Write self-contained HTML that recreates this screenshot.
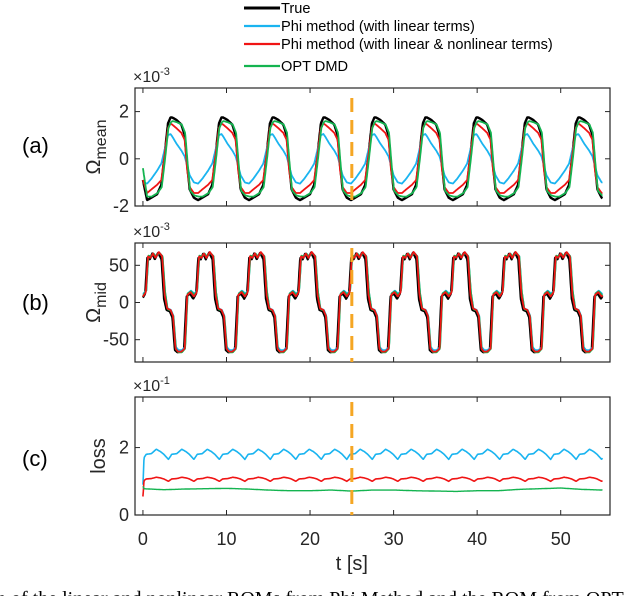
<!DOCTYPE html>
<html><head><meta charset="utf-8">
<style>
html,body{margin:0;padding:0;background:#fff;}
svg{display:block;}
text{font-family:"Liberation Sans",Arial,sans-serif;fill:#262626;}
</style></head>
<body>
<svg id="chart" width="640" height="596" viewBox="0 0 640 596">
</svg>
<script>
// ---------- data ----------
const xTicks = [0, 10, 20, 30, 40, 50];
const tEnd = 55;
const dashT = 25;
const periodA = 6.1;
const periodB = 6.1;
const periodC = 3.05;
// panel (a) one cycle: phase (s) and values (x1e-3)
const aPhase = [0, 0.5, 1.0, 1.7, 2.2, 2.6, 3.0, 3.3, 3.5, 4.0, 4.6, 5.0, 5.3, 5.6, 6.1];
const aTrue  = [-1.65, -1.75, -1.65, -1.5, -1.1, 0.2, 1.5, 1.75, 1.75, 1.65, 1.45, 1.0, -0.3, -1.3, -1.65];
const aLin   = [-1.0, -1.05, -0.85, -0.5, -0.2, 0.4, 1.0, 1.05, 0.95, 0.65, 0.35, 0.1, -0.3, -0.7, -1.0];
const aNonlin= [-1.45, -1.45, -1.3, -1.1, -0.9, 0.2, 1.3, 1.5, 1.45, 1.3, 1.1, 0.8, -0.5, -1.2, -1.45];
const aOpt   = [-1.55, -1.6, -1.6, -1.45, -1.2, 0.0, 1.3, 1.55, 1.6, 1.55, 1.45, 1.1, -0.2, -1.35, -1.55];
const aStartTrue = [-0.9, -1.75];
const aStartLin = [-1.0, -1.05];
const aStartNonlin = [-0.9, -1.45];
const aStartOpt = [-0.4, -1.6];
// panel (b) one cycle (x1e-3)
const bPhase = [0, 0.35, 0.6, 0.9, 1.2, 1.5, 1.9, 2.3, 2.6, 2.9, 3.3, 3.6, 3.9, 4.2, 4.6, 5.0, 5.3, 5.7, 6.1];
const bTrue  = [5, 12, 60, 58, 66, 58, 67, 58, 5, -10, -12, -20, -64, -67, -66, -62, 8, 12, 5];
const bLin   = [12, 16, 62, 62, 66, 62, 67, 62, 14, -8, -10, -18, -60, -64, -64, -60, 12, 16, 12];
const bNonlin= [8, 14, 62, 60, 66, 60, 68, 62, 10, -8, -10, -18, -62, -66, -66, -62, 10, 14, 8];
const bOpt   = [10, 16, 63, 62, 66, 62, 67, 62, 14, -9, -11, -19, -63, -67, -67, -62, 12, 15, 10];
// panel (c) loss (x1e-1)
const cPhase = [0, 0.4, 1.0, 1.6, 2.1, 2.5, 3.05];
const cLin   = [1.65, 1.8, 1.82, 1.95, 1.88, 1.8, 1.65];
const cNonlin= [1.0, 1.07, 1.08, 1.12, 1.1, 1.07, 1.0];
const cOptT  = [0, 2.5, 5, 7.5, 10, 12.5, 15, 17.5, 20, 22.5, 25, 27.5, 30, 32.5, 35, 37.5, 40, 42.5, 45, 47.5, 50, 52.5, 55];
const cOpt   = [0.78, 0.75, 0.77, 0.78, 0.79, 0.77, 0.74, 0.72, 0.72, 0.74, 0.71, 0.74, 0.74, 0.72, 0.71, 0.7, 0.72, 0.72, 0.76, 0.78, 0.8, 0.76, 0.74];
const cStartLin = [0.9, 1.8];
const cStartNonlin = [0.55, 1.08];
const cStartOpt = [0.85, 0.78];

// ---------- layout ----------
const NS = "http://www.w3.org/2000/svg";
const svg = document.getElementById("chart");
const X0 = 135, X1 = 610;
const xMin = -0.95, xMax = 55.9;
const sx = t => X0 + (t - xMin) / (xMax - xMin) * (X1 - X0);
const panels = [
  {key:"a", top:88, bot:206, ymin:-2, ymax:3, ticks:[-2,0,2], exp:"-3", lab:"(a)", labY:145, yl:"mean"},
  {key:"b", top:243, bot:362, ymin:-80, ymax:80, ticks:[-50,0,50], exp:"-3", lab:"(b)", labY:302, yl:"mid"},
  {key:"c", top:397, bot:515, ymin:0, ymax:3.5, ticks:[0,2], exp:"-1", lab:"(c)", labY:458, yl:"loss"}
];
function mk(tag, attrs, parent){
  const e = document.createElementNS(NS, tag);
  for (const k in attrs) e.setAttribute(k, attrs[k]);
  (parent||svg).appendChild(e);
  return e;
}
function interp(ph, vals, p){
  for (let i=0;i<ph.length-1;i++){
    if (p>=ph[i] && p<=ph[i+1]){ const f=(p-ph[i])/(ph[i+1]-ph[i]); return vals[i]+f*(vals[i+1]-vals[i]); }
  }
  return vals[vals.length-1];
}
function cyc(ph, vals, period, t){ let p = ((t % period)+period)%period; return interp(ph, vals, p); }

panels.forEach(P=>{
  const sy = v => P.bot - (v - P.ymin)/(P.ymax - P.ymin)*(P.bot - P.top);
  P.sy = sy;
  const g = mk("g", {});
  
  
  const clipId = "clip"+P.key;
  const cp = mk("clipPath", {id:clipId}, g);
  mk("rect", {x:X0, y:P.top, width:X1-X0, height:P.bot-P.top}, cp);
  const box = mk("rect", {x:X0, y:P.top, width:X1-X0, height:P.bot-P.top, fill:"none", stroke:"#262626", "stroke-width":1.2}, g);
  
  
  xTicks.forEach(t=>{
    const x = sx(t);
    mk("line",{x1:x,x2:x,y1:P.bot,y2:P.bot-5,stroke:"#262626","stroke-width":1},g);
    mk("line",{x1:x,x2:x,y1:P.top,y2:P.top+5,stroke:"#262626","stroke-width":1},g);
    if (P.key==="c"){
      const tl = mk("text",{x:x,y:545,"text-anchor":"middle","font-size":18},g);
      tl.textContent = t;
      
      
    }
  });
  P.ticks.forEach(v=>{
    const y = sy(v);
    mk("line",{x1:X0,x2:X0+5,y1:y,y2:y,stroke:"#262626","stroke-width":1},g);
    mk("line",{x1:X1,x2:X1-5,y1:y,y2:y,stroke:"#262626","stroke-width":1},g);
    const tl = mk("text",{x:X0-6,y:y+6,"text-anchor":"end","font-size":18},g);
    tl.textContent = v;
    
    
  });
  const ex = mk("text",{x:X0-2,y:P.top-6,"font-size":16},g);
  ex.innerHTML = '×10<tspan dy="-7" font-size="11">'+P.exp+'</tspan>';
  
  
  const pl = mk("text",{x:22,y:P.labY+8,"font-size":22,style:"fill:#000"},g);
  pl.textContent = P.lab;
  
  
  const cy = (P.top+P.bot)/2;
  const yl = mk("text",{transform:"translate("+(P.key==="c"?105:100)+","+cy+") rotate(-90)","text-anchor":"middle","font-size":20},g);
  if (P.key==="c") yl.textContent = "loss";
  else yl.innerHTML = 'Ω<tspan dy="6" font-size="16">'+P.yl+'</tspan>';
  
  
  P.g = g; P.clip = clipId;
});

function series(P, color, fn, name, w){
  let d = "";
  for (let t=0; t<=tEnd+1e-9; t+=0.04){
    const v = fn(t);
    d += (d?"L":"M") + sx(t).toFixed(1) + "," + P.sy(v).toFixed(1);
  }
  const p = mk("path",{d:d,fill:"none",stroke:color,"stroke-width":w||1.8,"stroke-linejoin":"round","clip-path":"url(#"+P.clip+")"},P.g);
  
  
}
const C_TRUE="#000000", C_LIN="#1ab4f0", C_NON="#f01414", C_OPT="#14b450";
const A = panels[0], B = panels[1], Cp = panels[2];
function withStart(st, f, dur){ dur = dur||0.15; return t => t<dur ? st[0]+(st[1]-st[0])*t/dur : f(t); }
series(A, C_TRUE, withStart(aStartTrue, t=>cyc(aPhase,aTrue,periodA,t), 0.5), "series-true-a", 2.4);
series(A, C_LIN, withStart(aStartLin, t=>cyc(aPhase,aLin,periodA,t), 0.5), "series-phi-linear-a");
series(A, C_NON, withStart(aStartNonlin, t=>cyc(aPhase,aNonlin,periodA,t), 0.5), "series-phi-nonlinear-a");
series(A, C_OPT, withStart(aStartOpt, t=>cyc(aPhase,aOpt,periodA,t-0.05), 0.5), "series-opt-dmd-a");
series(B, C_TRUE, t=>cyc(bPhase,bTrue,periodB,t+0.08), "series-true-b", 2.2);
series(B, C_LIN, t=>cyc(bPhase,bLin,periodB,t-0.05), "series-phi-linear-b");
series(B, C_OPT, t=>cyc(bPhase,bOpt,periodB,t-0.05), "series-opt-dmd-b");
series(B, C_NON, t=>cyc(bPhase,bNonlin,periodB,t), "series-phi-nonlinear-b");
series(Cp, C_LIN, withStart(cStartLin, t=>cyc(cPhase,cLin,periodC,t)), "series-phi-linear-c", 1.6);
series(Cp, C_NON, withStart(cStartNonlin, t=>cyc(cPhase,cNonlin,periodC,t)), "series-phi-nonlinear-c", 1.6);
series(Cp, C_OPT, withStart(cStartOpt, t=>interp(cOptT,cOpt,t)), "series-opt-dmd-c", 1.4);

[[98,206],[248,362],[402,515]].forEach(r=>{
  const l = mk("line",{x1:sx(dashT),x2:sx(dashT),y1:r[0],y2:r[1],stroke:"#f5a623","stroke-width":3,"stroke-dasharray":"14,8"});
  
  
});

const xt = mk("text",{x:sx(25),y:570,"text-anchor":"middle","font-size":20});
xt.textContent = "t [s]";



const legItems = [["True",C_TRUE,8],["Phi method (with linear terms)",C_LIN,26],["Phi method (with linear & nonlinear terms)",C_NON,44],["OPT DMD",C_OPT,66]];
const lg = mk("g",{});


legItems.forEach(it=>{
  const e = mk("g",{},lg);
  
  
  mk("line",{x1:244,x2:280,y1:it[2],y2:it[2],stroke:it[1],"stroke-width":it[1]===C_TRUE?3:2.2},e);
  const tx = mk("text",{x:281,y:it[2]+5,"font-size":14.6,style:"fill:#000"},e);
  tx.textContent = it[0];
});

const cap = mk("text",{x:-4,y:605,"font-size":20,style:"font-family:'Liberation Serif',serif;fill:#000"});
cap.textContent = "n of the linear and nonlinear ROMs from Phi Method and the ROM from OPT";


</script>
</body></html>
